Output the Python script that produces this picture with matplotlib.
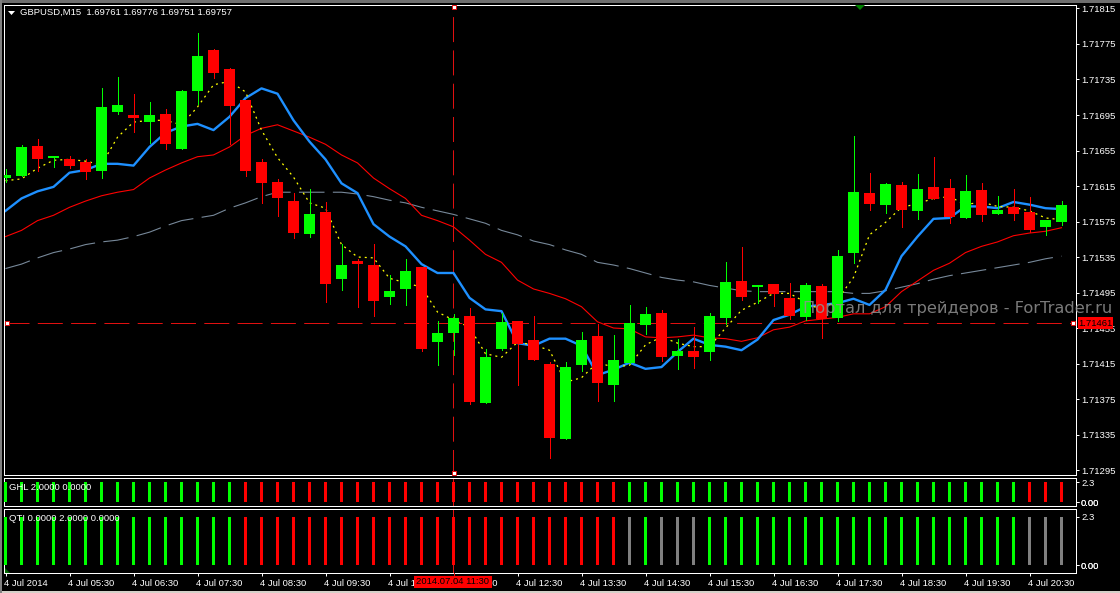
"""GBPUSD M15 MetaTrader-style screenshot: candles, 4 moving averages, GHL and QTI strips."""
import matplotlib
matplotlib.use("Agg")
import matplotlib.pyplot as plt
from matplotlib.patches import Rectangle, Polygon
from matplotlib.transforms import ScaledTranslation
import numpy as np

plt.rcParams["font.family"] = ["Liberation Sans", "DejaVu Sans"]

W, H = 1120, 593
BASE = 1.71  # series below are in points (1e-5) above this price

opens = [624, 626, 660, 647, 645, 642, 632, 698, 695, 687, 696, 657, 722, 768, 747, 712, 642,
         620, 598, 561, 586, 510, 531, 526, 490, 499, 524, 439, 449, 469, 370, 431, 463, 441,
         414, 330, 413, 446, 391, 416, 458, 472, 423, 429, 428, 466, 508, 501, 505, 489, 467,
         502, 466, 540, 607, 594, 616, 587, 614, 613, 579, 611, 583, 591, 586, 569, 574]
highs = [634, 661, 668, 649, 649, 645, 725, 738, 719, 710, 702, 723, 787, 769, 748, 712, 645,
         623, 607, 612, 597, 550, 533, 550, 515, 533, 524, 463, 471, 478, 431, 472, 463, 469,
         417, 417, 451, 460, 447, 481, 479, 475, 443, 456, 472, 529, 546, 503, 505, 506, 506,
         505, 543, 671, 630, 618, 620, 629, 648, 623, 627, 618, 604, 612, 603, 577, 598]
lows = [620, 626, 632, 636, 635, 623, 624, 696, 676, 664, 657, 657, 707, 737, 662, 626, 596,
        581, 556, 558, 484, 498, 479, 469, 482, 481, 429, 413, 425, 369, 370, 430, 391, 419,
        308, 330, 407, 373, 373, 416, 448, 418, 409, 410, 419, 460, 487, 483, 480, 465, 464,
        444, 463, 528, 588, 585, 569, 578, 600, 573, 579, 576, 583, 577, 563, 560, 571]
closes = [627, 659, 645, 649, 638, 631, 704, 706, 692, 695, 662, 722, 761, 742, 705, 632, 618,
          601, 562, 583, 505, 526, 527, 485, 497, 519, 431, 449, 466, 372, 422, 462, 437, 419,
          331, 411, 441, 393, 419, 461, 471, 422, 429, 422, 469, 507, 490, 503, 493, 469, 503,
          465, 536, 608, 595, 617, 588, 612, 600, 580, 609, 582, 588, 583, 565, 577, 594]

ma_blue = [587, 601, 609, 614, 630, 633, 640, 640, 638, 659, 675, 682, 685, 678, 693, 714, 725,
           719, 689, 665, 645, 618, 607, 572, 558, 547, 527, 517, 517, 489, 476, 474, 438, 435,
           443, 443, 435, 402, 408, 416, 409, 411, 428, 443, 436, 434, 430, 442, 464, 470, 479,
           481, 483, 488, 481, 498, 536, 558, 578, 579, 592, 592, 590, 597, 594, 590, 589]
ma_red = [558, 565, 576, 582, 591, 598, 604, 608, 611, 624, 633, 641, 648, 650, 659, 672, 680,
          684, 677, 670, 662, 650, 641, 624, 612, 601, 582, 576, 569, 554, 538, 529, 509, 499,
          494, 488, 479, 462, 455, 454, 445, 444, 445, 447, 444, 443, 440, 444, 453, 456, 463,
          465, 467, 471, 471, 479, 496, 508, 520, 528, 540, 547, 552, 559, 562, 564, 568]
ma_gray = [522, 527, 534, 540, 544, 549, 552, 554, 558, 563, 570, 576, 579, 582, 590, 596, 603,
           608, 608, 608, 608, 608, 606, 603, 599, 596, 591, 587, 583, 578, 573, 565, 560, 553,
           549, 543, 538, 529, 526, 522, 517, 512, 509, 507, 503, 500, 497, 496, 496, 496, 496,
           496, 496, 494, 494, 497, 501, 505, 510, 514, 517, 520, 523, 526, 529, 533, 536]
ma_yellow = [621, 623, 635, 644, 645, 643, 639, 670, 687, 689, 689, 684, 704, 729, 733, 721, 678,
             647, 625, 596, 590, 549, 535, 534, 511, 506, 501, 473, 464, 456, 426, 422, 439, 436,
             430, 394, 399, 416, 411, 413, 436, 445, 438, 434, 434, 455, 475, 484, 494, 494, 484,
             475, 487, 512, 560, 574, 591, 595, 601, 603, 594, 597, 592, 591, 587, 579, 577]

# indicator strips: g = green, r = red, n = gray (all bars have value 2)
ghl_colors = "g" * 15 + "r" * 24 + "g" * 25 + "r" * 3
qti_colors = "g" * 15 + "r" * 24 + "n" + "g" + "nnn" + "g" * 20 + "n" * 3
strip_value = 2.0

price_ticks = [1.71815, 1.71775, 1.71735, 1.71695, 1.71655, 1.71615, 1.71575,
               1.71535, 1.71495, 1.71455, 1.71415, 1.71375, 1.71335, 1.71295]
time_labels = ["4 Jul 2014", "4 Jul 05:30", "4 Jul 06:30", "4 Jul 07:30", "4 Jul 08:30",
               "4 Jul 09:30", "4 Jul 10:30", "4 Jul 11:30", "4 Jul 12:30", "4 Jul 13:30",
               "4 Jul 14:30", "4 Jul 15:30", "4 Jul 16:30", "4 Jul 17:30", "4 Jul 18:30",
               "4 Jul 19:30", "4 Jul 20:30"]
cross_bar = 28
cross_price = 1.71461

COLORS = {"g": "#00FF00", "r": "#FF0000", "n": "#808080"}
WHITE = "#FFFFFF"
CROSS = "#E01010"
PX = 0.72  # one pixel in points at dpi 100
FONT = 6.8


def price(pts):
    return BASE + np.array(pts) * 1e-5


def panel(fig, left, top, right, bottom):
    ax = fig.add_axes([left / W, 1 - bottom / H, (right - left) / W, (bottom - top) / H])
    ax.set_facecolor("black")
    for s in ax.spines.values():
        s.set_color(WHITE)
        s.set_linewidth(PX)
    ax.set_xlim(-1.5 / 16, (1076 - 5.5) / 16)
    ax.yaxis.tick_right()
    ax.tick_params(axis="y", colors=WHITE, length=3 * PX, width=PX, pad=1.5, labelsize=FONT)
    ax.tick_params(axis="x", colors=WHITE, length=3 * PX, width=PX, pad=2.5, labelsize=FONT)
    ax.set_xticks([])
    return ax


def strip(ax, colors, label, ticks):
    xs = np.arange(len(colors))
    ax.bar(xs, [strip_value] * len(colors), width=3 / 16, color=[COLORS[c] for c in colors],
           linewidth=0, antialiased=False, zorder=3)
    ax.axvline(cross_bar, color=CROSS, lw=PX, zorder=2, snap=False)
    ax.set_yticks([0, 0, strip_value], ticks)
    for t in ax.get_yticklabels():
        t.set_ha("left")
    # label row sits 10 px below the top of the pane
    y = 1 - 10 / (ax.get_position().height * H)
    ax.text(0.0045, y, label, transform=ax.transAxes, color=WHITE, fontsize=FONT,
            ha="left", va="center", zorder=5)


fig = plt.figure(figsize=(W / 100, H / 100), dpi=100, facecolor="black")

# window chrome around the chart
fig.add_artist(Rectangle((0, 1 - 2.5 / H), 1, 2.5 / H, transform=fig.transFigure, color="#6E6E6E", lw=0))
fig.add_artist(Rectangle((0, 0), 1, 2 / H, transform=fig.transFigure, color="#D4D0C8", lw=0))
fig.add_artist(Rectangle((0, 0), 1.5 / W, 1, transform=fig.transFigure, color="#808080", lw=0))

# main chart
ax = panel(fig, 4, 4.5, 1076, 475)
ax.set_ylim(1.712894, 1.718195)

x = np.arange(len(closes))
o, h, l, c = price(opens), price(highs), price(lows), price(closes)
candle_colors = [COLORS["g"] if b >= a else COLORS["r"] for a, b in zip(o, c)]

ax.axhline(cross_price, color=CROSS, lw=PX, dashes=(25, 8.3), zorder=1)
ax.axvline(cross_bar, color=CROSS, lw=PX, dashes=(25, 8.3), zorder=1, snap=False)

ax.plot(x, price(ma_gray), color="#778899", lw=0.8, dashes=(23, 7.5), zorder=2)
ax.plot(x, price(ma_red), color="#FF0000", lw=0.8, zorder=2)
ax.plot(x, price(ma_blue), color="#1E90FF", lw=1.7, zorder=2)
ax.plot(x, price(ma_yellow), color="#FFFF00", lw=0.9, ls=(0, (1.6, 3.2)), zorder=2)

ax.vlines(x, l, h, colors=candle_colors, lw=PX, zorder=3, antialiased=False)
ax.bar(x, np.abs(c - o), bottom=np.minimum(o, c), width=11 / 16, color=candle_colors,
       linewidth=0, antialiased=False, zorder=4)

ax.set_yticks(price_ticks, [f"{p:.5f}" for p in price_ticks])

# crosshair end squares
square = dict(marker="s", ms=5 * PX, mfc=WHITE, mec=CROSS, mew=PX, ls="none", clip_on=False, zorder=6)
ax.plot([cross_bar], [0.995], transform=ax.get_xaxis_transform(), **square)
ax.plot([cross_bar], [0.004], transform=ax.get_xaxis_transform(), **square)
ax.plot([0.0028], [cross_price], transform=ax.get_yaxis_transform(), **square)
ax.plot([0.9972], [cross_price], transform=ax.get_yaxis_transform(), **square)

# header, trade arrow, watermark, price flag
fig.text(20 / W, 1 - 12 / H, "GBPUSD,M15  1.69761 1.69776 1.69751 1.69757", color=WHITE,
         fontsize=FONT, ha="left", va="center")
fig.add_artist(Polygon([(8 / W, 1 - 11 / H), (15 / W, 1 - 11 / H), (11.5 / W, 1 - 15 / H)],
                       transform=fig.transFigure, color=WHITE, lw=0))
fig.add_artist(Polygon([(855 / W, 1 - 5 / H), (865 / W, 1 - 5 / H), (860 / W, 1 - 10 / H)],
                       transform=fig.transFigure, color="#008000", lw=0))
fig.text(803 / W, 1 - 308 / H, "Портал для трейдеров - ForTrader.ru", color="#909090", alpha=0.85,
         fontsize=11.7, family="DejaVu Sans", ha="left", va="center", zorder=10)
fig.add_artist(Rectangle((1078 / W, 1 - 329 / H), 35 / W, 12 / H, transform=fig.transFigure,
                         color="#FF0000", lw=0, zorder=9))
fig.text(1095.5 / W, 1 - 323 / H, f"{cross_price:.5f}", color="black", fontsize=FONT,
         ha="center", va="center", zorder=10)

# indicator panes
ax_ghl = panel(fig, 4, 477.5, 1076, 506)
ax_ghl.set_ylim(-0.4, 2.5)
strip(ax_ghl, ghl_colors, "GHL 2.0000 0.0000", ["0.0", "0.00", "2.3"])

ax_qti = panel(fig, 4, 508.5, 1076, 573)
ax_qti.set_ylim(-0.33, 2.35)
strip(ax_qti, qti_colors, "QTI 0.0000 2.0000 0.0000", ["0.0", "0.00", "2.3"])

ax_qti.set_xticks(np.arange(0, len(closes), 4), time_labels)
shift = ScaledTranslation(-2 / 100, 0, fig.dpi_scale_trans)
for t in ax_qti.get_xticklabels():
    t.set_ha("left")
    t.set_transform(t.get_transform() + shift)
fig.add_artist(Polygon([(5 / W, 1 - 568 / H), (5 / W, 1 - 573 / H), (10 / W, 1 - 573 / H)],
                       transform=fig.transFigure, color="#006400", lw=0))

# time flag of the crosshair
fig.add_artist(Rectangle((414 / W, 1 - 588 / H), 78 / W, 12 / H, transform=fig.transFigure,
                         color="#FF0000", lw=0, zorder=9))
fig.text(453 / W, 1 - 582 / H, "2014.07.04 11:30", color="black", fontsize=FONT,
         ha="center", va="center", zorder=10)
fig.add_artist(plt.Line2D([453.5 / W, 453.5 / W], [1 - 577 / H, 1 - 573 / H], color=CROSS, lw=PX))

fig.savefig("out.png", dpi=100, facecolor="black")
